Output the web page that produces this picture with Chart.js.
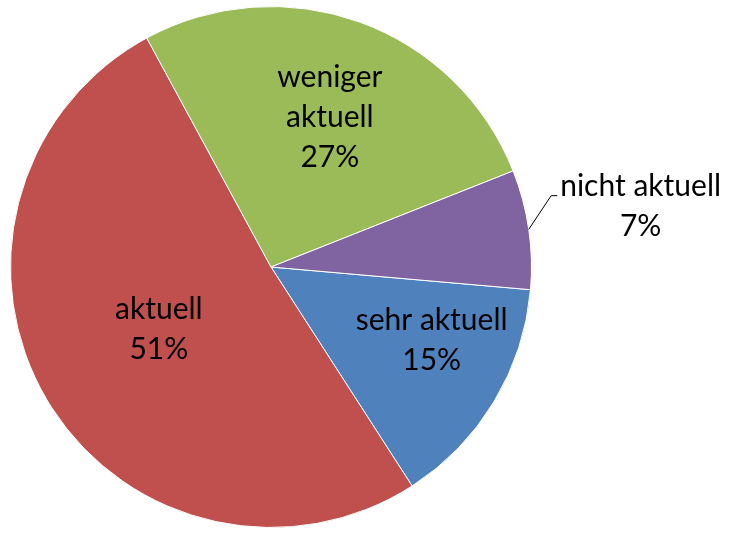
<!DOCTYPE html>
<html>
<head>
<meta charset="utf-8">
<script src="https://cdn.jsdelivr.net/npm/chart.js@4"></script>
<style>
html,body{margin:0;padding:0;background:#fff;}
canvas{display:block;}
</style>
</head>
<body>
<canvas id="c" width="732" height="539"></canvas>
<script>
const categories = ["sehr aktuell", "aktuell", "weniger aktuell", "nicht aktuell"];
const labelLines = [["sehr aktuell"], ["aktuell"], ["weniger", "aktuell"], ["nicht aktuell"]];
const values = [14.5, 51.2, 26.9, 7.4];
const percentLabels = ["15%", "51%", "27%", "7%"];
const colors = ["#4F81BD", "#C0504D", "#9BBB59", "#8064A2"];

// label placement: radius factor, angle shift (deg), outside with leader
const labelPlace = [
  {f: 0.68, da: -6.2, outside: false},
  {f: 0.495, da: 1.1, outside: false},
  {f: 0.61, da: 1.8, outside: false},
  {f: 1.437, da: -0.8, outside: true}
];

const FONT = '30px Lato, "Open Sans", sans-serif';
const LINE_H = 40;
const BASE_OFF = 8;

const labelPlugin = {
  id: 'pieLabels',
  afterDatasetsDraw(chart) {
    const ctx = chart.ctx;
    const meta = chart.getDatasetMeta(0);
    ctx.save();
    ctx.font = FONT;
    ctx.fillStyle = '#000';
    ctx.textAlign = 'center';
    ctx.textBaseline = 'alphabetic';
    meta.data.forEach((arc, i) => {
      const p = arc.getProps(['x', 'y', 'startAngle', 'endAngle', 'outerRadius'], true);
      const mid = (p.startAngle + p.endAngle) / 2 + labelPlace[i].da * Math.PI / 180;
      const r = p.outerRadius * labelPlace[i].f;
      const cx = p.x + Math.cos(mid) * r;
      const cy = p.y + Math.sin(mid) * r;
      const lines = labelLines[i].concat([percentLabels[i]]);
      const y0 = cy - (lines.length - 1) * LINE_H / 2 + BASE_OFF;
      lines.forEach((t, k) => ctx.fillText(t, cx, y0 + k * LINE_H));
      if (labelPlace[i].outside) {
        const w = ctx.measureText(lines[0]).width;
        const realMid = (p.startAngle + p.endAngle) / 2;
        const ex = p.x + Math.cos(realMid) * p.outerRadius;
        const ey = p.y + Math.sin(realMid) * p.outerRadius;
        const left = cx - w / 2 - 3;
        const ly = y0;
        ctx.strokeStyle = '#000';
        ctx.lineWidth = 1;
        ctx.beginPath();
        ctx.moveTo(ex, ey);
        ctx.lineTo(left - 6, ly);
        ctx.lineTo(left, ly);
        ctx.stroke();
      }
    });
    ctx.restore();
  }
};

new Chart(document.getElementById('c'), {
  type: 'pie',
  data: {
    labels: categories,
    datasets: [{
      data: values,
      backgroundColor: colors,
      borderColor: '#ffffff',
      borderWidth: 1
    }]
  },
  options: {
    responsive: false,
    animation: false,
    devicePixelRatio: 1,
    rotation: 95.0,
    layout: {padding: {left: 10, right: 200, top: 6, bottom: 11}},
    plugins: {legend: {display: false}, tooltip: {enabled: false}}
  },
  plugins: [labelPlugin]
});
</script>
</body>
</html>
